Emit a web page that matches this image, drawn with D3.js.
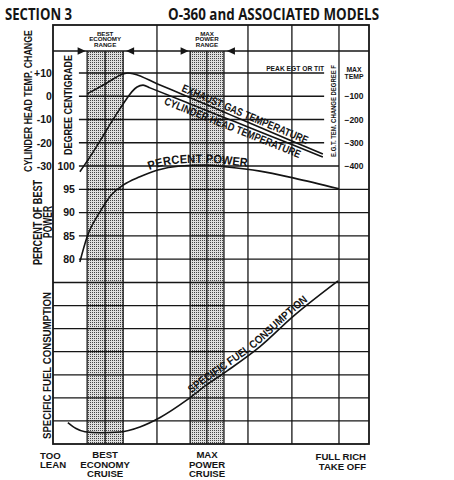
<!DOCTYPE html>
<html>
<head>
<meta charset="utf-8">
<script src="https://cdn.jsdelivr.net/npm/d3@7/dist/d3.min.js"></script>
<style>
  body { margin: 0; background: #fff; }
  svg text { font-family: "Liberation Sans", Arial, sans-serif; font-weight: bold; fill: #141414; }
  svg text.title { font-family: "Open Sans", "Liberation Sans", sans-serif; font-weight: 700; }
</style>
</head>
<body>
<script>
// mixture axis runs from "too lean" (0) to "full rich" (100), arbitrary units
var mixtureGrid = [10.8, 16.5, 22.2, 32.9, 43.4, 48.7, 54.1, 61.7, 75.6, 90.5];
var bands = [[10.8, 22.2], [43.4, 54.1]];
var bandNames = [["BEST", "ECONOMY", "RANGE"], ["MAX", "POWER", "RANGE"]];
var cruiseNames = [["BEST", "ECONOMY", "CRUISE"], ["MAX", "POWER", "CRUISE"]];

// tick values
var chtTicks = [10, 0, -10, -20, -30];
var chtTickLabels = ["+10", "0", "-10", "-20", "-30"];
var egtTicks = [-100, -200, -300, -400];
var powerTicks = [100, 95, 90, 85, 80];
var sfcRows = [1, 2, 3, 4, 5, 6, 7];

// exhaust gas temperature, deg F from peak
var egtMixture = [10.8, 16.5, 22.2, 23.7, 25.6, 32.9, 43.4, 54.1, 61.7, 75.6, 85.4];
var egtDrop = [-90, -47, -4, 0, -4, -46, -106, -168, -212, -292, -348];

// cylinder head temperature change, deg C
var chtMixture = [8.5, 11.7, 14.9, 18.0, 21.2, 23.1, 25.0, 26.6, 28.5, 30.7, 43.4, 54.1, 61.7, 75.6, 85.4];
var chtChange = [-32.5, -26.1, -19.2, -12.2, -5.3, -1.5, 2.0, 4.0, 4.8, 3.6, -3.3, -9.1, -13.2, -20.8, -26.1];

// percent of best power
var powerMixture = [8.5, 10.8, 14.9, 18.0, 22.2, 27.5, 32.9, 40.2, 48.1, 55.1, 65.5, 76.3, 90.5];
var powerPct = [79.4, 84.8, 90.2, 93.4, 95.9, 97.7, 99.1, 100, 100.2, 99.8, 98.9, 97.4, 95.1];

// specific fuel consumption, in grid rows above the bottom (unlabelled on the chart)
var sfcMixture = [4.7, 7.3, 10.1, 14.9, 21.2, 27.5, 33.9, 42.4, 48.7, 55.1, 65.5, 75.9, 90.2];
var sfcLevel = [0.93, 0.67, 0.53, 0.49, 0.52, 0.74, 1.15, 1.91, 2.57, 3.17, 4.22, 5.52, 7.07];

var width = 454, height = 480;
var frame = {left: 53, right: 369, top: 25, header: 51, bottom: 444};
var gridLeft = 8.2, egtEdge = 85.8, rightCol = 90.5;   // in mixture units

var svg = d3.select("body").append("svg")
	.attr("width", width)
	.attr("height", height);

var x = d3.scaleLinear().domain([0, 100]).range([frame.left, frame.right]);
var yCht = d3.scaleLinear().domain([10, -30]).range([73, 166]);
var yEgt = d3.scaleLinear().domain([0, -400]).range([73, 166]);
var yPower = d3.scaleLinear().domain([100, 75]).range([166, 282.5]);
var ySfc = d3.scaleLinear().domain([0, 7]).range([frame.bottom, 282.5]);

// dot screen for the shaded ranges
var pat = svg.append("defs").append("pattern")
	.attr("id", "screen")
	.attr("width", 2).attr("height", 2)
	.attr("patternUnits", "userSpaceOnUse");
pat.append("rect").attr("width", 2).attr("height", 2).attr("fill", "#dedede");
pat.append("rect").attr("width", 1).attr("height", 1).attr("fill", "#454545");

svg.append("g").selectAll("rect")
	.data(bands)
	.join("rect")
	.attr("x", d => x(d[0]))
	.attr("y", frame.header)
	.attr("width", d => x(d[1]) - x(d[0]))
	.attr("height", frame.bottom - frame.header)
	.attr("fill", "url(#screen)");

// grid
var grid = svg.append("g")
	.attr("stroke", "#161616")
	.attr("stroke-width", 1.3);

function hline(y, x0, x1) {
	grid.append("line").attr("x1", x0).attr("x2", x1).attr("y1", y).attr("y2", y);
}

hline(frame.header, frame.left, frame.right);
chtTicks.slice(0, 4).forEach(v => hline(yCht(v), x(gridLeft), x(egtEdge)));
hline(yCht(-30), x(gridLeft), x(rightCol));
powerTicks.slice(1).forEach(v => hline(yPower(v), x(gridLeft), frame.right));
sfcRows.forEach(v => hline(ySfc(v), frame.left, frame.right));

var inBand = m => bands.some(b => m >= b[0] && m <= b[1]);
mixtureGrid.forEach(function(m) {
	grid.append("line")
		.attr("x1", x(m)).attr("x2", x(m))
		.attr("y1", inBand(m) ? frame.header : frame.top)
		.attr("y2", frame.bottom);
});

svg.append("rect")
	.attr("x", frame.left).attr("y", frame.top)
	.attr("width", frame.right - frame.left)
	.attr("height", frame.bottom - frame.top)
	.attr("fill", "none")
	.attr("stroke", "#161616")
	.attr("stroke-width", 1.8);

// range arrows on the header line
var arrows = svg.append("g").attr("fill", "#161616");
bands.forEach(function(b) {
	var l = x(b[0]) - 1.5, r = x(b[1]) + 3, y = frame.header;
	arrows.append("path").attr("d", `M${l},${y}L${l - 8},${y - 3.8}L${l - 8},${y + 3.8}Z`);
	arrows.append("path").attr("d", `M${r},${y}L${r + 8},${y - 3.8}L${r + 8},${y + 3.8}Z`);
});

// header and bottom captions for the ranges
bands.forEach(function(b, i) {
	var cx = x((b[0] + b[1]) / 2);
	var head = svg.append("text").attr("text-anchor", "middle").style("font-size", "6.2px");
	bandNames[i].forEach((t, j) => head.append("tspan").attr("x", cx).attr("y", 35.5 + j * 5.6).text(t));
	var foot = svg.append("text").attr("text-anchor", "middle").style("font-size", "9.6px");
	cruiseNames[i].forEach((t, j) => foot.append("tspan").attr("x", cx).attr("y", 458 + j * 9.6).text(t));
});

var lean = svg.append("text").style("font-size", "9.6px");
["TOO", "LEAN"].forEach((t, j) => lean.append("tspan").attr("x", 40).attr("y", 458.5 + j * 9.6).text(t));
var rich = svg.append("text").attr("text-anchor", "end").style("font-size", "9.6px");
["FULL RICH", "TAKE OFF"].forEach((t, j) => rich.append("tspan").attr("x", 366).attr("y", 460 + j * 9.6).text(t));

// axes
var chtAxis = svg.append("g")
	.attr("transform", `translate(${x(gridLeft)},0)`)
	.call(d3.axisLeft(yCht).tickValues(chtTicks).tickFormat((d, i) => chtTickLabels[i]).tickSize(0).tickPadding(27))
	.attr("font-size", 10.5);
chtAxis.select(".domain").remove();

var powerAxis = svg.append("g")
	.attr("transform", `translate(${x(gridLeft)},0)`)
	.call(d3.axisLeft(yPower).tickValues(powerTicks).tickSize(0).tickPadding(4))
	.attr("font-size", 10.5);
powerAxis.select(".domain").remove();

var egtAxis = svg.append("g")
	.attr("transform", `translate(${(x(rightCol) + frame.right) / 2},0)`)
	.call(d3.axisRight(yEgt).tickValues(egtTicks).tickSize(0).tickPadding(0))
	.attr("font-size", 8.5);
egtAxis.select(".domain").remove();
egtAxis.selectAll("text").attr("text-anchor", "middle");

var maxTemp = svg.append("text").attr("text-anchor", "middle").style("font-size", "6.8px");
["MAX", "TEMP"].forEach((t, j) => maxTemp.append("tspan")
	.attr("x", (x(rightCol) + frame.right) / 2).attr("y", 72 + j * 6.8).text(t));

svg.append("text")
	.attr("x", x(egtEdge)).attr("y", yEgt(0) - 2.5)
	.attr("text-anchor", "end")
	.attr("textLength", 58).attr("lengthAdjust", "spacingAndGlyphs")
	.style("font-size", "7.5px")
	.text("PEAK EGT OR TIT");

function vtitle(t, bx, cy, size, len) {
	svg.append("text")
		.attr("transform", `translate(${bx},${cy}) rotate(-90)`)
		.attr("text-anchor", "middle")
		.attr("textLength", len).attr("lengthAdjust", "spacingAndGlyphs")
		.style("font-size", size + "px")
		.text(t);
}
vtitle("CYLINDER HEAD TEMP. CHANGE", 31.5, 101, 11.5, 142);
vtitle("DEGREE CENTIGRADE", 72, 105, 11, 100);
vtitle("PERCENT OF BEST", 42, 222.5, 12, 85);
vtitle("POWER", 52, 222, 12, 32);
vtitle("SPECIFIC FUEL CONSUMPTION", 50.5, 365.5, 11.5, 147);
vtitle("E.G.T. TEM. CHANGE DEGREE F", 335.5, 111, 7, 92);

// page titles
svg.append("text").attr("class", "title")
	.attr("x", 5).attr("y", 20)
	.attr("textLength", 67).attr("lengthAdjust", "spacingAndGlyphs")
	.style("font-size", "15.5px")
	.text("SECTION 3");
svg.append("text").attr("class", "title")
	.attr("x", 168).attr("y", 20)
	.attr("textLength", 211).attr("lengthAdjust", "spacingAndGlyphs")
	.style("font-size", "15.5px")
	.text("O-360 and ASSOCIATED MODELS");

// curves
function curve(id, xs, ys, yScale) {
	var line = d3.line()
		.x(d => x(d[0]))
		.y(d => yScale(d[1]))
		.curve(d3.curveMonotoneX);
	return svg.append("path")
		.attr("id", id)
		.datum(d3.zip(xs, ys))
		.attr("d", line)
		.attr("fill", "none")
		.attr("stroke", "#141414")
		.attr("stroke-width", 1.6)
		.node();
}

var egtPath = curve("egt", egtMixture, egtDrop, yEgt);
var chtPath = curve("cht", chtMixture, chtChange, yCht);
var powerPath = curve("power", powerMixture, powerPct, yPower);
var sfcPath = curve("sfc", sfcMixture, sfcLevel, ySfc);

function curveLabel(node, t, fromMixture, dy, size, len) {
	var target = x(fromMixture), lo = 0, hi = node.getTotalLength();
	for (var i = 0; i < 30; i++) {
		var mid = (lo + hi) / 2;
		if (node.getPointAtLength(mid).x < target) lo = mid; else hi = mid;
	}
	svg.append("text")
		.attr("dy", dy)
		.style("font-size", size + "px")
		.append("textPath")
		.attr("href", "#" + node.id)
		.attr("startOffset", lo)
		.attr("textLength", len)
		.attr("lengthAdjust", "spacingAndGlyphs")
		.text(t);
}

curveLabel(egtPath, "EXHAUST GAS TEMPERATURE", 40.2, -2.5, 11, 136);
curveLabel(chtPath, "CYLINDER HEAD TEMPERATURE", 36.1, 10, 11, 146);
curveLabel(powerPath, "PERCENT POWER", 30.7, -2.5, 12, 98);
curveLabel(sfcPath, "SPECIFIC FUEL CONSUMPTION", 44.3, -2.5, 11, 149);
</script>
</body>
</html>
